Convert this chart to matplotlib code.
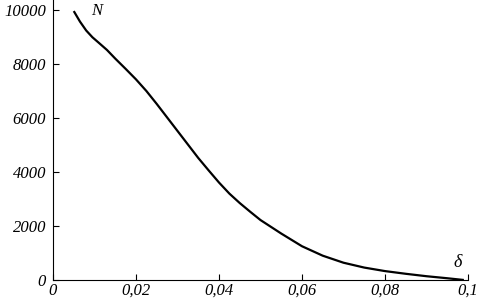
import matplotlib
matplotlib.use('Agg')
import matplotlib.pyplot as plt

# curve
delta = [0.005, 0.0065, 0.008, 0.0095, 0.011, 0.013, 0.015, 0.0175, 0.020, 0.0225,
         0.025, 0.0275, 0.030, 0.0325, 0.035, 0.0375, 0.040, 0.0425, 0.045, 0.0475,
         0.050, 0.055, 0.060, 0.065, 0.070, 0.075, 0.080, 0.085, 0.090, 0.095, 0.099]
N = [9960, 9570, 9240, 8990, 8790, 8520, 8200, 7820, 7430, 7000,
     6520, 6020, 5520, 5020, 4520, 4060, 3610, 3200, 2850, 2530,
     2220, 1720, 1250, 900, 640, 460, 330, 230, 140, 65, 0]

xticks = [0, 0.02, 0.04, 0.06, 0.08, 0.1]
xticklabels = ['0', '0,02', '0,04', '0,06', '0,08', '0,1']
yticks = [0, 2000, 4000, 6000, 8000, 10000]
yticklabels = ['0', '2000', '4000', '6000', '8000', '10000']

plt.rcParams['font.family'] = ['Liberation Serif', 'DejaVu Serif']
plt.rcParams['font.style'] = 'italic'

fig = plt.figure(figsize=(4.81, 3.0), dpi=100)
ax = fig.add_axes([53 / 481, 20 / 300, 415 / 481, 280 / 300])

ax.plot(delta, N, color='black', linewidth=1.6, solid_capstyle='butt')

ax.set_xlim(0, 0.1)
ax.set_ylim(0, 10370)
ax.set_xticks(xticks)
ax.set_xticklabels(xticklabels)
ax.set_yticks(yticks)
ax.set_yticklabels(yticklabels)
ax.tick_params(direction='in', length=4, width=0.8, labelsize=12)
ax.tick_params(axis='x', pad=2)
ax.tick_params(axis='y', pad=5)
for lab in ax.get_xticklabels() + ax.get_yticklabels():
    lab.set_fontstyle('italic')

ax.spines['top'].set_visible(False)
ax.spines['right'].set_visible(False)
ax.spines['left'].set_linewidth(0.8)
ax.spines['bottom'].set_linewidth(0.8)

ax.text(0.0105, 9950, 'N', fontsize=12, fontstyle='italic', ha='center', va='center')
ax.text(0.0975, 660, 'δ', fontsize=13, fontstyle='italic', ha='center', va='center')

fig.savefig('out.png', dpi=100)
